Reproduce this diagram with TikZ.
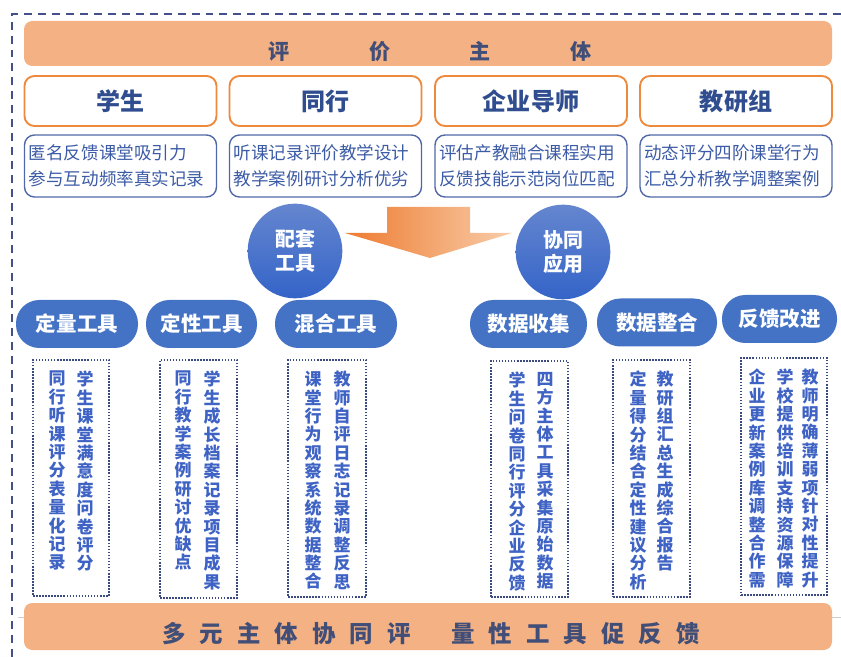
\documentclass[tikz,border=0pt]{standalone}
\usepackage{fontspec}
\setmainfont{Noto Sans CJK SC}
\usetikzlibrary{fit}

\definecolor{bandorange}{HTML}{F4B183}
\definecolor{subjorange}{HTML}{EE8A3E}
\definecolor{descblue}{HTML}{5068A8}
\definecolor{pillblue}{HTML}{4472C4}
\definecolor{dotblue}{HTML}{3B4A80}
\definecolor{framegray}{HTML}{44508A}
\definecolor{titletext}{HTML}{414E78}
\definecolor{subjtext}{HTML}{2F4D8F}
\definecolor{desctext}{HTML}{3C5BA6}
\definecolor{vtext}{HTML}{3F63C4}
\definecolor{arrowdark}{HTML}{EE7B30}
\definecolor{arrowlight}{HTML}{F8CDAA}
\definecolor{balltop}{HTML}{6586CF}
\definecolor{ballbottom}{HTML}{3464C8}

\setlength{\parindent}{0pt}

% stack the characters of a macro one under another
\newcommand\stackchars[1]{\expandafter\stackloop#1\relax}
\def\stackloop#1{\ifx\relax#1\else#1\par\expandafter\stackloop\fi}
\newcommand\titlegap{\hspace{68pt}}
\newcommand\slogangap{\hspace{12pt}}

\tikzset{
	frame/.style={draw=framegray,line width=1.7pt,dash pattern=on 6.8pt off 5.1pt},
	band/.style={fill=bandorange,rounded corners=0.25cm,inner sep=0pt},
	bandtext/.style={text=titletext,inner sep=0pt},
	subjbox/.style={draw=subjorange,line width=1.6pt,fill=white,rounded corners=0.3cm,
		minimum width=5.76cm,minimum height=1.5cm,text=subjtext,
		font=\fontsize{20.5}{23}\selectfont\bfseries},
	descbox/.style={draw=descblue,line width=1.2pt,rounded corners=0.3cm,
		minimum width=5.76cm,minimum height=1.86cm,text width=5.5cm,inner xsep=0.13cm,
		align=left,text=desctext,font=\fontsize{15}{22}\selectfont},
	ball/.style={circle,minimum size=2.84cm,inner sep=0pt,top color=balltop,
		bottom color=ballbottom,text=white,align=center,
		font=\fontsize{17}{21}\selectfont\bfseries},
	pill/.style={fill=pillblue,rounded corners=0.7cm,minimum height=1.44cm,inner sep=0pt,
		text=white,font=\fontsize{17.5}{20}\selectfont\bfseries},
	dotbox/.style={draw=dotblue,line width=1.3pt,dash pattern=on 1.3pt off 1.3pt,inner sep=0pt},
	vcol/.style={anchor=north,text width=15pt,align=center,inner sep=0pt,text=vtext,
		font=\fontsize{14.5}{15.7}\selectfont\bfseries}
}

\begin{document}
\begin{tikzpicture}[x=0.03cm,y=-0.03cm]
	\useasboundingbox (0,0) rectangle (841,657);

	\draw[frame] (12,657) -- (12,14) -- (841,14);

	\node[band,fit={(24,21) (832,66)}] (topband) {};
	\node[bandtext,font=\fontsize{18}{20}\selectfont\bfseries] (title) at (430,52)
		{评\titlegap 价\titlegap 主\titlegap 体};

	\foreach \x/\who/\la/\lb [count=\i] in {
		120.5/学生/匿名反馈课堂吸引力/参与互动频率真实记录,
		325.5/同行/听课记录评价教学设计/教学案例研讨分析优劣,
		531/企业导师/评估产教融合课程实用/反馈技能示范岗位匹配,
		736/教研组/动态评分四阶课堂行为/汇总分析教学调整案例}
	{
		\node[subjbox] (subj\i) at (\x,101) {\who};
		\node[descbox] (desc\i) at (\x,166) {\la\\\lb};
	}

	\shade[left color=arrowdark,right color=arrowlight]
		(387,207) -- (470,207) -- (470,233) -- (512,233) -- (430,258)
		-- (345,233) -- (387,233) -- cycle;

	\node[ball] (tools) at (295,251) {配套\\工具};
	\node[ball] (apply) at (563,252) {协同\\应用};

	\foreach \x/\y/\w/\name [count=\i] in {
		77/324/122/定量工具, 201.5/324/111/定性工具, 336/324/122/混合工具,
		528.5/324/117/数据收集, 657/322.5/120/数据整合, 779.5/319/115/反馈改进}
		\node[pill,minimum width=\w*0.03cm] (pill\i) at (\x,\y) {\name};

	\foreach \xa/\ya/\xb/\yb [count=\i] in {
		33/360/109/596, 160/360/237/598, 288/360/366/597,
		491/361/568/597, 613/360/690/597, 741/358/827/595}
		\node[dotbox,fit={(\xa,\ya) (\xb,\yb)}] (box\i) {};

	\foreach \x/\y/\txt [count=\i] in {
		85/371/学生课堂满意度问卷评分, 57/371/同行听课评分表量化记录,
		212/371/学生成长档案记录项目成果, 183/371/同行教学案例研讨优缺点,
		342/371/教师自评日志记录调整反思, 313/371/课堂行为观察系统数据整合,
		545/372/四方主体工具采集原始数据, 517/372/学生问卷同行评分企业反馈,
		665/371/教研组汇总生成综合报告, 638/371/定量得分结合定性建议分析,
		810/369/教师明确薄弱项针对性提升, 785/369/学校提供培训支持资源保障,
		757/369/企业更新案例库调整合作需}
		\node[vcol] (col\i) at (\x,\y) {\stackchars{\txt}};

	\draw[gray!40,line width=0.6pt] (18,617) -- (841,617);
	\node[band,fit={(24,603) (832,650)}] (botband) {};
	\node[bandtext,font=\fontsize{20}{22}\selectfont\bfseries] (slogan) at (431,634)
		{多\slogangap 元\slogangap 主\slogangap 体\slogangap 协\slogangap 同\slogangap 评\hspace{35pt}量\slogangap 性\slogangap 工\slogangap 具\slogangap 促\slogangap 反\slogangap 馈};
\end{tikzpicture}
\end{document}
